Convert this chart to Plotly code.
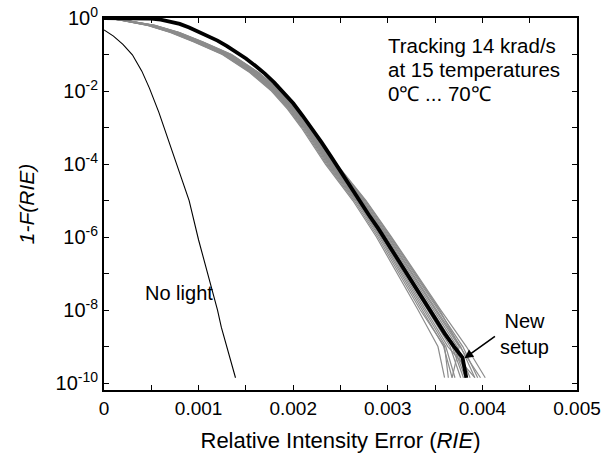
import plotly.graph_objects as go

# ---------------- data ----------------
# Thick black curve: "New setup"
black_rie = [0, 0.0004, 0.0005, 0.0006, 0.0007, 0.0008, 0.0009, 0.001, 0.0011,
             0.0012, 0.0013, 0.0014, 0.0015, 0.0016, 0.0017, 0.0018, 0.0019,
             0.002, 0.0021, 0.0022, 0.0023, 0.0024, 0.0025, 0.0026, 0.0027,
             0.0028, 0.0029, 0.003, 0.0031, 0.0032, 0.0033, 0.0034, 0.0035,
             0.0036, 0.0037, 0.00379, 0.00383]
black_val = [1, 0.993, 0.966, 0.90, 0.81, 0.69, 0.55, 0.42, 0.32,
             0.24, 0.17, 0.117, 0.078, 0.049, 0.030, 0.017, 9.1e-3,
             4.6e-3, 2.1e-3, 9.3e-4, 3.9e-4, 1.6e-4, 6.3e-5, 2.5e-5, 1.0e-5,
             4.0e-6, 1.7e-6, 6.6e-7, 2.5e-7, 9.5e-8, 3.6e-8, 1.4e-8, 5.6e-9,
             2.3e-9, 1.0e-9, 5.0e-10, 1.4e-10]

# Thin black curve: "No light"
nolight_rie = [0, 0.0001, 0.0002, 0.0003, 0.0004, 0.00048, 0.00058, 0.00072,
               0.0009, 0.001, 0.00111, 0.0012, 0.00124, 0.00139]
nolight_val = [0.47, 0.32, 0.19, 0.098, 0.035, 0.012, 2.6e-3, 2.4e-4,
               1.0e-5, 8.3e-7, 7.9e-8, 1e-8, 3.4e-9, 1.4e-10]

# Gray curves: tracking 14 krad/s at 15 temperatures (0 C ... 70 C)
gray_val = [1, 0.89, 0.63, 0.40, 0.22, 0.1, 0.032, 0.01, 3.2e-3, 1e-3, 1e-4,
            1e-5, 1e-6, 1e-7, 1e-8, 1e-9, 1.4e-10]
gray_rie = [
    [0, 0.000160, 0.000460, 0.000700, 0.000950, 0.001250, 0.001540, 0.001770, 0.001940, 0.002085, 0.002340, 0.002630, 0.002880, 0.003100, 0.003320, 0.003530, 0.003600],
    [0, 0.000163, 0.000466, 0.000708, 0.000958, 0.001258, 0.001549, 0.001780, 0.001950, 0.002096, 0.002352, 0.002644, 0.002896, 0.003120, 0.003344, 0.003600, 0.003640],
    [0, 0.000166, 0.000472, 0.000716, 0.000966, 0.001266, 0.001558, 0.001790, 0.001960, 0.002107, 0.002364, 0.002658, 0.002912, 0.003140, 0.003368, 0.003590, 0.003680],
    [0, 0.000169, 0.000478, 0.000724, 0.000974, 0.001274, 0.001566, 0.001798, 0.001968, 0.002115, 0.002373, 0.002669, 0.002924, 0.003155, 0.003386, 0.003613, 0.003710],
    [0, 0.000172, 0.000484, 0.000732, 0.000982, 0.001282, 0.001574, 0.001806, 0.001975, 0.002124, 0.002382, 0.002679, 0.002936, 0.003170, 0.003404, 0.003635, 0.003920],
    [0, 0.000176, 0.000492, 0.000741, 0.000991, 0.001291, 0.001582, 0.001813, 0.001983, 0.002132, 0.002391, 0.002690, 0.002948, 0.003185, 0.003422, 0.003658, 0.003770],
    [0, 0.000180, 0.000500, 0.000750, 0.001000, 0.001300, 0.001590, 0.001820, 0.001990, 0.002140, 0.002400, 0.002700, 0.002960, 0.003200, 0.003440, 0.003680, 0.003800],
    [0, 0.000182, 0.000504, 0.000755, 0.001005, 0.001305, 0.001595, 0.001825, 0.001995, 0.002146, 0.002406, 0.002707, 0.002968, 0.003210, 0.003452, 0.003695, 0.003820],
    [0, 0.000184, 0.000508, 0.000760, 0.001010, 0.001310, 0.001600, 0.001829, 0.002000, 0.002151, 0.002412, 0.002714, 0.002976, 0.003220, 0.003464, 0.003710, 0.003840],
    [0, 0.000187, 0.000514, 0.000767, 0.001018, 0.001318, 0.001607, 0.001836, 0.002008, 0.002159, 0.002421, 0.002725, 0.002988, 0.003235, 0.003482, 0.003733, 0.003870],
    [0, 0.000190, 0.000520, 0.000775, 0.001025, 0.001325, 0.001614, 0.001843, 0.002015, 0.002168, 0.002430, 0.002735, 0.003000, 0.003250, 0.003500, 0.003755, 0.003680],
    [0, 0.000192, 0.000524, 0.000780, 0.001030, 0.001330, 0.001618, 0.001847, 0.002020, 0.002173, 0.002436, 0.002742, 0.003008, 0.003260, 0.003512, 0.003770, 0.003920],
    [0, 0.000195, 0.000530, 0.000787, 0.001038, 0.001337, 0.001625, 0.001854, 0.002028, 0.002181, 0.002445, 0.002753, 0.003020, 0.003275, 0.003530, 0.003793, 0.003950],
    [0, 0.000198, 0.000536, 0.000795, 0.001045, 0.001344, 0.001631, 0.001861, 0.002035, 0.002190, 0.002454, 0.002763, 0.003032, 0.003290, 0.003548, 0.003760, 0.003980],
    [0, 0.000200, 0.000540, 0.000800, 0.001050, 0.001350, 0.001636, 0.001865, 0.002040, 0.002195, 0.002460, 0.002770, 0.003040, 0.003300, 0.003560, 0.003830, 0.004030],
]

x_tickvals = [0, 0.001, 0.002, 0.003, 0.004, 0.005]
x_ticktext = ["0", "0.001", "0.002", "0.003", "0.004", "0.005"]
y_tickvals = [1, 1e-2, 1e-4, 1e-6, 1e-8, 1e-10]
y_ticktext = ["10<sup>0</sup>", "10<sup>-2</sup>", "10<sup>-4</sup>",
              "10<sup>-6</sup>", "10<sup>-8</sup>", "10<sup>-10</sup>"]
y_minorvals = [1e-1, 1e-3, 1e-5, 1e-7, 1e-9]

info_lines = ["Tracking 14 krad/s", "at 15 temperatures", "0℃ ... 70℃"]

FONT = "Liberation Sans, Arial, sans-serif"

fig = go.Figure()
for rie in gray_rie:
    fig.add_trace(go.Scatter(x=rie, y=gray_val, mode="lines",
                             line=dict(color="#8c8c8c", width=1.2),
                             showlegend=False, hoverinfo="skip"))
fig.add_trace(go.Scatter(x=nolight_rie, y=nolight_val, mode="lines",
                         line=dict(color="black", width=1.1),
                         showlegend=False))
fig.add_trace(go.Scatter(x=black_rie, y=black_val, mode="lines",
                         line=dict(color="black", width=3.8),
                         showlegend=False))

fig.update_layout(
    width=605, height=455,
    margin=dict(l=104, r=28, t=18, b=65),
    paper_bgcolor="white", plot_bgcolor="white",
    font=dict(family=FONT, size=19, color="black"),
    showlegend=False,
)
fig.update_xaxes(
    range=[0, 0.005], showgrid=False, zeroline=False, automargin=False,
    showline=True, linecolor="black", linewidth=2, mirror="allticks",
    ticks="inside", ticklen=5, tickwidth=1.3, tickcolor="black",
    tickvals=x_tickvals, ticktext=x_ticktext, tickfont=dict(size=19),
    minor=dict(ticks="inside", dtick=0.0005, ticklen=5, tickwidth=1.3, tickcolor="black"),
    title=dict(text="Relative Intensity Error (<i>RIE</i>)", font=dict(size=22)),
)
fig.update_yaxes(
    type="log", range=[-10.19, 0], showgrid=False, zeroline=False, automargin=False,
    showline=True, linecolor="black", linewidth=2, mirror="allticks",
    ticks="inside", ticklen=5, tickwidth=1.3, tickcolor="black",
    tickvals=y_tickvals, ticktext=y_ticktext, tickfont=dict(size=20),
    minor=dict(ticks="inside", tickvals=y_minorvals, ticklen=5, tickwidth=1.3, tickcolor="black"),
    title=dict(text="<i>1-F(RIE)</i>", font=dict(size=21)),
)

for line, ypos in zip(info_lines, [-0.74, -1.42, -2.08]):
    fig.add_annotation(x=0.00298, y=ypos, xref="x", yref="y", text=line,
                       showarrow=False, xanchor="left", yanchor="middle",
                       font=dict(size=20.5))
fig.add_annotation(x=0.000795, y=-7.53, xref="x", yref="y", text="No light",
                   showarrow=False, xanchor="center", yanchor="middle",
                   font=dict(size=20))
fig.add_annotation(x=0.00416, y=-8.66, xref="x", yref="y", text="New<br>setup",
                   showarrow=False, xanchor="left", yanchor="middle", align="center",
                   font=dict(size=20))
fig.add_annotation(x=0.00381, y=-9.32, xref="x", yref="y", text="",
                   showarrow=True, ax=32, ay=-23, arrowhead=2, arrowsize=1.1,
                   arrowwidth=1.6, arrowcolor="black")

fig.write_html("out.html", config={"displayModeBar": False},
               post_script="document.body.style.margin='0';document.body.style.overflow='hidden';")
